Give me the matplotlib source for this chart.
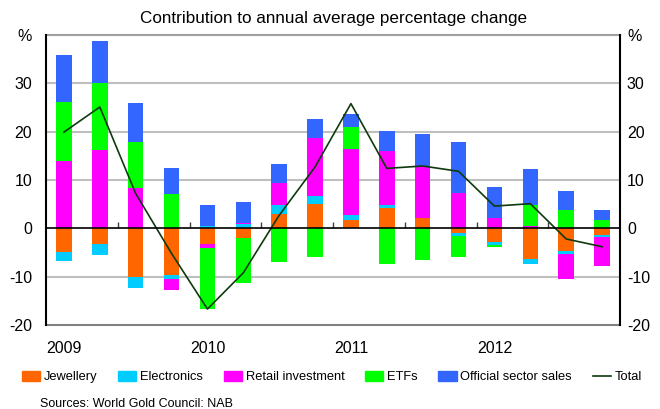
import numpy as np
from matplotlib import pyplot as plt
from matplotlib.lines import Line2D
from matplotlib.patches import Patch

plt.rcParams['font.family'] = ['Liberation Sans', 'DejaVu Sans']

# quarterly contributions, 2009 Q1 - 2012 Q4
quarters = ['2009Q1', '2009Q2', '2009Q3', '2009Q4',
            '2010Q1', '2010Q2', '2010Q3', '2010Q4',
            '2011Q1', '2011Q2', '2011Q3', '2011Q4',
            '2012Q1', '2012Q2', '2012Q3', '2012Q4']
jewellery = [-4.9, -3.3, -10.1, -9.6, -3.2, -1.9, 3.0, 5.1,
             1.8, 4.3, 2.2, -1.0, -2.9, -6.3, -4.7, -1.4]
electronics = [-1.8, -2.2, -2.3, -0.8, 0.5, 0.9, 1.9, 1.5,
               0.9, 0.5, 0.0, -0.5, -0.5, -1.0, -0.7, -0.4]
retail = [14.0, 16.2, 8.4, -2.3, -0.8, 0.3, 4.4, 12.0,
          13.8, 11.1, 10.6, 7.4, 2.2, 0.4, -5.1, -5.9]
etfs = [12.2, 13.9, 9.5, 7.1, -12.6, -9.4, -7.0, -6.0,
        4.5, -7.3, -6.5, -4.4, -0.5, 4.4, 3.8, 1.7]
official = [9.6, 8.7, 8.0, 5.3, 4.4, 4.3, 4.1, 4.0,
            2.6, 4.2, 6.7, 10.4, 6.3, 7.4, 4.0, 2.0]
total = [19.9, 25.1, 7.2, -5.2, -16.7, -9.2, 2.7, 12.7,
         25.8, 12.4, 12.9, 11.8, 4.6, 5.1, -2.2, -3.8]
years = ['2009', '2010', '2011', '2012']

series = [('Jewellery', jewellery, '#ff6600'),
          ('Electronics', electronics, '#00ccff'),
          ('Retail investment', retail, '#ff00ff'),
          ('ETFs', etfs, '#00ff00'),
          ('Official sector sales', official, '#3366ff')]

fig = plt.figure(figsize=(6.6, 4.09), dpi=100)
ax = fig.add_axes([0.0697, 0.2054, 0.8697, 0.709])

x = np.arange(len(quarters))
pos_bottom = np.zeros(len(x))
neg_bottom = np.zeros(len(x))
for name, vals, col in series:
    v = np.array(vals)
    bottom = np.where(v >= 0, pos_bottom, neg_bottom)
    ax.bar(x, v, width=0.43, bottom=bottom, color=col, zorder=3)
    pos_bottom += np.where(v >= 0, v, 0)
    neg_bottom += np.where(v < 0, v, 0)

ax.plot(x, total, color='#0d3b0d', lw=1.2, zorder=4)

# axes formatting
ax.set_xlim(-0.5, len(x) - 0.5)
ax.set_ylim(-20, 40)
yt = [-20, -10, 0, 10, 20, 30, 40]
ylabels = ['-20', '-10', '0', '10', '20', '30', '%']
for y in [-10, 10, 20, 30]:
    ax.axhline(y, color='#bfbfbf', lw=1.5, zorder=1)
ax.axhline(40, color='#a0a0a0', lw=1.5, zorder=1, clip_on=False)
ax.axhline(-20, color='#808080', lw=1.5, zorder=1, clip_on=False)

ax.spines['top'].set_visible(False)
ax.spines['left'].set_linewidth(1.5)
ax.spines['right'].set_linewidth(1.5)
ax.spines['bottom'].set_position(('data', 0))
ax.spines['bottom'].set_zorder(5)
ax.spines['bottom'].set_linewidth(1.2)

ax.set_xticks(x[1:-1:2] + 0.5)
ax.set_xticklabels([])
ax.tick_params(axis='x', direction='in', length=4, width=1, color='#404040')

ax.set_yticks(yt)
ax.set_yticklabels(ylabels)
ax.tick_params(axis='y', length=0, pad=10, labelsize=11.5)

ax2 = ax.twinx()
ax2.set_ylim(ax.get_ylim())
ax2.set_yticks(yt)
ax2.set_yticklabels(ylabels)
ax2.tick_params(axis='y', length=0, pad=5, labelsize=11.5)
for s in ax2.spines.values():
    s.set_visible(False)

for i, yr in enumerate(years):
    ax.text(x[i * 4], -24.8, yr, ha='center', va='center', fontsize=11.5)

fig.text(0.505, 1 - 18 / 409, 'Contribution to annual average percentage change',
         ha='center', va='center', fontsize=12.3)

handles = [Patch(color=col, label=name) for name, vals, col in series]
handles.append(Line2D([0], [0], color='#0d3b0d', lw=1.2, label='Total'))
fig.legend(handles=handles, loc='center', bbox_to_anchor=(0.503, 1 - 377 / 409),
           ncol=6, frameon=False, fontsize=9.3, handlelength=1.4, handleheight=0.8,
           handletextpad=0.3, columnspacing=1.6)

fig.text(40 / 660, 1 - 404 / 409, 'Sources: World Gold Council: NAB',
         ha='left', va='center', fontsize=9)

plt.savefig('out.png', dpi=100)
